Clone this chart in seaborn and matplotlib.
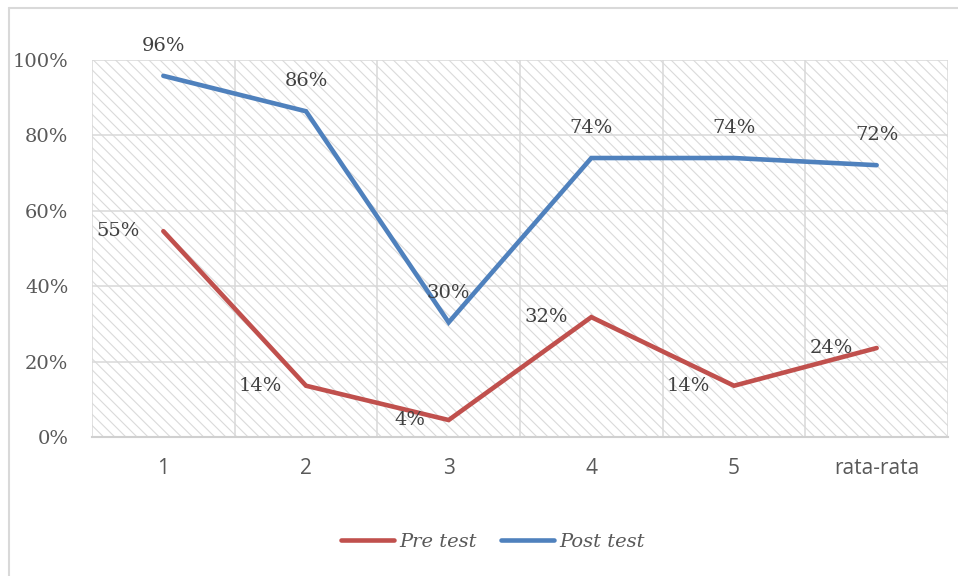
import matplotlib
matplotlib.use("Agg")
import matplotlib.pyplot as plt
from matplotlib.patches import Rectangle
from matplotlib.lines import Line2D
import seaborn as sns
import pandas as pd
import numpy as np

categories = ["1", "2", "3", "4", "5", "rata-rata"]
pre_test = [0.546, 0.136, 0.045, 0.318, 0.136, 0.236]
post_test = [0.958, 0.864, 0.304, 0.740, 0.740, 0.721]
series_names = ["Pre test", "Post test"]
colors = ["#C0504D", "#4F81BD"]
y_ticks = [0, 0.2, 0.4, 0.6, 0.8, 1.0]

pos = list(range(len(categories)))
df = pd.DataFrame({
    "pos": pos * 2,
    "value": pre_test + post_test,
    "series": [series_names[0]] * len(pos) + [series_names[1]] * len(pos),
})

sns.set_theme(style="white")
plt.rcParams["hatch.linewidth"] = 0.8

fig = plt.figure(figsize=(9.58, 5.76), dpi=100)
ax = fig.add_axes([92 / 958, 1 - 437 / 576, (948 - 92) / 958, (437 - 60) / 576])

# hatched plot area background
ax.add_patch(Rectangle((0, 0), 1, 1, transform=ax.transAxes, facecolor="white",
                       edgecolor="#dadada", hatch="\\\\\\", lw=0, zorder=0))

sns.lineplot(data=df, x="pos", y="value", hue="series", palette=colors,
             linewidth=3.3, ax=ax, legend=False, zorder=3)
for l in ax.lines:
    l.set_solid_capstyle("round")
    l.set_solid_joinstyle("miter")

ax.set_xlim(-0.5, len(categories) - 0.5)
ax.set_ylim(0, 1.0)
ax.set_xticks(pos)
ax.set_xticklabels(categories, fontsize=15, color="#595959", family="Open Sans")
ax.set_yticks(y_ticks)
ax.set_yticklabels([f"{int(round(t*100))}%" for t in y_ticks], fontsize=14,
                   color="#595959", family="DejaVu Serif")
ax.tick_params(axis="x", length=0, pad=15)
ax.tick_params(axis="y", length=0, pad=17)
ax.set_xlabel("")
ax.set_ylabel("")

# gridlines
for t in y_ticks[1:]:
    ax.axhline(t, color="#d9d9d9", lw=1.1, zorder=1)
for b in np.arange(-0.5, len(categories), 1.0):
    ax.axvline(b, color="#d9d9d9", lw=1.1, zorder=1)

for s in ["top", "right", "left"]:
    ax.spines[s].set_visible(False)
ax.spines["bottom"].set_color("#d0d0d0")
ax.spines["bottom"].set_linewidth(1.5)

# data labels
lab_kw = dict(fontsize=14, color="#404040", family="DejaVu Serif", zorder=5)
for x, v in zip(pos, pre_test):
    ax.annotate(f"{round(v*100):.0f}%", (x, v), xytext=(-17, 0), textcoords="offset points",
                ha="right", va="center", **lab_kw)
for x, v in zip(pos, post_test):
    ax.annotate(f"{round(v*100):.0f}%", (x, v), xytext=(0, 15), textcoords="offset points",
                ha="center", va="bottom", **lab_kw)

# legend
handles = [Line2D([0], [0], color=c, lw=3.3, solid_capstyle="round") for c in colors]
fig.legend(handles, series_names, loc="center", bbox_to_anchor=(493 / 958, 1 - 542 / 576),
           ncol=2, frameon=False, handlelength=2.7, handletextpad=0.3, columnspacing=1.25,
           prop=dict(family="DejaVu Serif", style="italic", size=14), labelcolor="#595959")

# outer chart border (top & left visible)
fig.add_artist(Line2D([9 / 958, 1.0], [1 - 8 / 576, 1 - 8 / 576], color="#d9d9d9", lw=1.5,
                      transform=fig.transFigure))
fig.add_artist(Line2D([9 / 958, 9 / 958], [0, 1 - 8 / 576], color="#d9d9d9", lw=1.5,
                      transform=fig.transFigure))

fig.savefig("out.png", dpi=100, facecolor="white")
